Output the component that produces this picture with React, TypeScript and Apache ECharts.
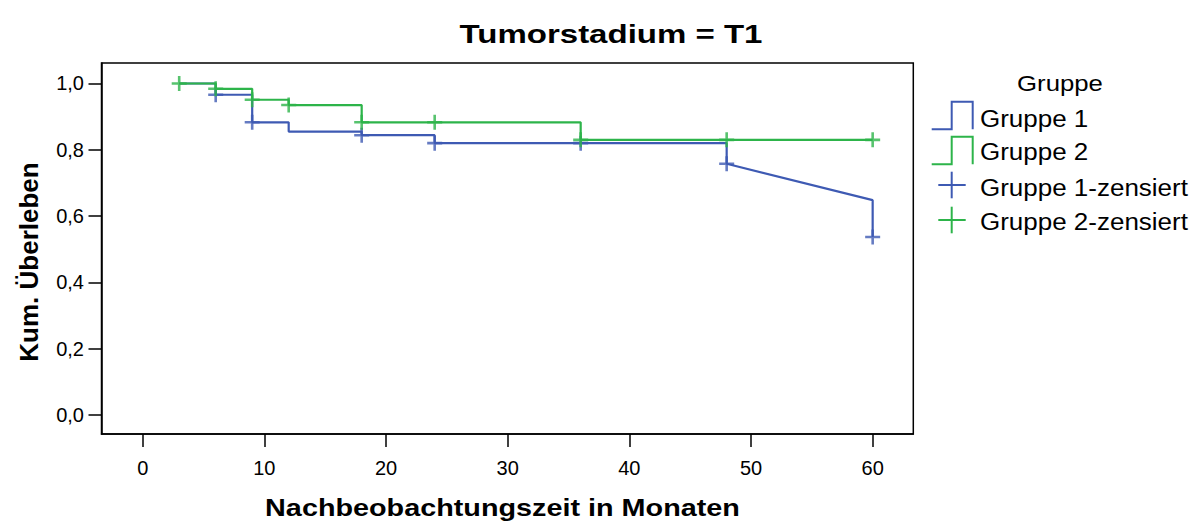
import React, { useEffect, useRef } from "react";
import * as echarts from "echarts";

// Kaplan-Meier curve vertices (time in months, cumulative survival)
const group1Times = [3, 6, 6, 9, 9, 12, 12, 18, 18, 24, 24, 48, 48, 60, 60];
const group1Surv = [1.0, 1.0, 0.966, 0.966, 0.883, 0.883, 0.855, 0.855, 0.844, 0.844, 0.82, 0.82, 0.758, 0.648, 0.537];
const group2Times = [3, 6, 6, 9, 9, 12, 12, 18, 18, 36, 36, 60];
const group2Surv = [1.0, 1.0, 0.984, 0.984, 0.951, 0.951, 0.935, 0.935, 0.883, 0.883, 0.83, 0.83];

// censored observations
const group1CensTimes = [6, 9, 18, 24, 36, 48, 60];
const group1CensSurv = [0.966, 0.883, 0.844, 0.82, 0.82, 0.758, 0.537];
const group2CensTimes = [3, 6, 9, 12, 18, 24, 36, 48, 60];
const group2CensSurv = [1.0, 0.984, 0.951, 0.935, 0.883, 0.883, 0.83, 0.83, 0.83];

const xTicks = [0, 10, 20, 30, 40, 50, 60];
const yTicks = [0, 0.2, 0.4, 0.6, 0.8, 1.0];

const legendNames = ["Gruppe 1", "Gruppe 2", "Gruppe 1-zensiert", "Gruppe 2-zensiert"];
const titleText = "Tumorstadium = T1";
const xName = "Nachbeobachtungszeit in Monaten";
const yName = "Kum. Überleben";
const legendTitle = "Gruppe";

const BLUE = "#3e5ab3";
const GREEN = "#2db44a";
const FONT = "'Liberation Sans', Arial, sans-serif";
const PLUS = "path://M6.2,0H8.8V6.2H15V8.8H8.8V15H6.2V8.8H0V6.2H6.2Z";

const zip = (a: number[], b: number[]) => a.map((v, i) => [v, b[i]]);

export default function App() {
  const ref = useRef<HTMLDivElement>(null);
  useEffect(() => {
    document.body.style.margin = "0";
    if (!ref.current) return;
    const chart = echarts.init(ref.current, undefined, { renderer: "svg" });
    const lx = 931.7;
    const option: any = {
      animation: false,
      backgroundColor: "#ffffff",
      grid: {
        left: 101.5,
        right: 289.7,
        top: 63,
        bottom: 91,
        containLabel: false,
        show: true,
        borderColor: "#000",
        borderWidth: 1.5,
        backgroundColor: "#fff",
      },
      xAxis: {
        type: "value",
        min: -3.386,
        max: 63.34,
        axisLine: { show: true, onZero: false, lineStyle: { color: "#000", width: 1.5 } },
        axisTick: { show: true, length: 13, customValues: xTicks, lineStyle: { color: "#000", width: 1.5 } },
        axisLabel: {
          customValues: xTicks,
          margin: 24,
          fontSize: 20,
          color: "#000",
          fontFamily: FONT,
        },
        splitLine: { show: false },
      },
      yAxis: {
        type: "value",
        min: -0.0573,
        max: 1.0618,
        axisLine: { show: true, onZero: false, lineStyle: { color: "#000", width: 1.5 } },
        axisTick: { show: true, length: 13, customValues: yTicks, lineStyle: { color: "#000", width: 1.5 } },
        axisLabel: {
          customValues: yTicks,
          margin: 17.5,
          fontSize: 20,
          color: "#000",
          fontFamily: FONT,
          formatter: (v: number) => v.toFixed(1).replace(".", ","),
        },
        splitLine: { show: false },
      },
      series: [
        {
          name: legendNames[0],
          type: "line",
          data: zip(group1Times, group1Surv),
          showSymbol: false,
          lineStyle: { color: BLUE, width: 2.2 },
          itemStyle: { color: BLUE },
          z: 2,
        },
        {
          name: legendNames[2],
          type: "scatter",
          data: zip(group1CensTimes, group1CensSurv),
          symbol: PLUS,
          symbolSize: 15,
          itemStyle: { color: BLUE },
          z: 3,
        },
        {
          name: legendNames[1],
          type: "line",
          data: zip(group2Times, group2Surv),
          showSymbol: false,
          lineStyle: { color: GREEN, width: 2.2 },
          itemStyle: { color: GREEN },
          z: 4,
        },
        {
          name: legendNames[3],
          type: "scatter",
          data: zip(group2CensTimes, group2CensSurv),
          symbol: PLUS,
          symbolSize: 15,
          itemStyle: { color: GREEN },
          z: 5,
        },
      ],
      graphic: [
        {
          type: "text",
          x: 611,
          y: 34,
          scaleX: 1.27,
          style: { text: titleText, font: `bold 26px ${FONT}`, fill: "#000", align: "center", verticalAlign: "middle" },
        },
        {
          type: "text",
          x: 502.5,
          y: 508,
          scaleX: 1.225,
          style: { text: xName, font: `bold 23.5px ${FONT}`, fill: "#000", align: "center", verticalAlign: "middle" },
        },
        {
          type: "text",
          x: 29,
          y: 262,
          rotation: Math.PI / 2,
          style: { text: yName, font: `bold 26px ${FONT}`, fill: "#000", align: "center", verticalAlign: "middle" },
        },
        {
          type: "text",
          x: 1060,
          y: 83,
          scaleX: 1.12,
          style: { text: legendTitle, font: `23px ${FONT}`, fill: "#000", align: "center", verticalAlign: "middle" },
        },
        {
          type: "polyline",
          shape: { points: [[lx, 129.3], [951.7, 129.3], [951.7, 101.7], [972.7, 101.7], [972.7, 129.3]] },
          style: { stroke: BLUE, lineWidth: 2, fill: null },
        },
        {
          type: "polyline",
          shape: { points: [[lx, 164.3], [951.7, 164.3], [951.7, 136.7], [972.7, 136.7], [972.7, 164.3]] },
          style: { stroke: GREEN, lineWidth: 2, fill: null },
        },
        { type: "line", shape: { x1: 938.3, y1: 185, x2: 965.7, y2: 185 }, style: { stroke: BLUE, lineWidth: 2 } },
        { type: "line", shape: { x1: 951.7, y1: 171.7, x2: 951.7, y2: 198.3 }, style: { stroke: BLUE, lineWidth: 2 } },
        { type: "line", shape: { x1: 938.3, y1: 220, x2: 965.7, y2: 220 }, style: { stroke: GREEN, lineWidth: 2 } },
        { type: "line", shape: { x1: 951.7, y1: 206.7, x2: 951.7, y2: 233.3 }, style: { stroke: GREEN, lineWidth: 2 } },
        ...legendNames.map((n, i) => ({
          type: "text",
          x: 980,
          y: [119.3, 151.7, 188.3, 221.7][i],
          scaleX: 1.13,
          style: { text: n, font: `23px ${FONT}`, fill: "#000", align: "left", verticalAlign: "middle" },
        })),
      ],
    };
    chart.setOption(option);
    return () => chart.dispose();
  }, []);
  return <div ref={ref} style={{ width: 1203, height: 525 }} />;
}
